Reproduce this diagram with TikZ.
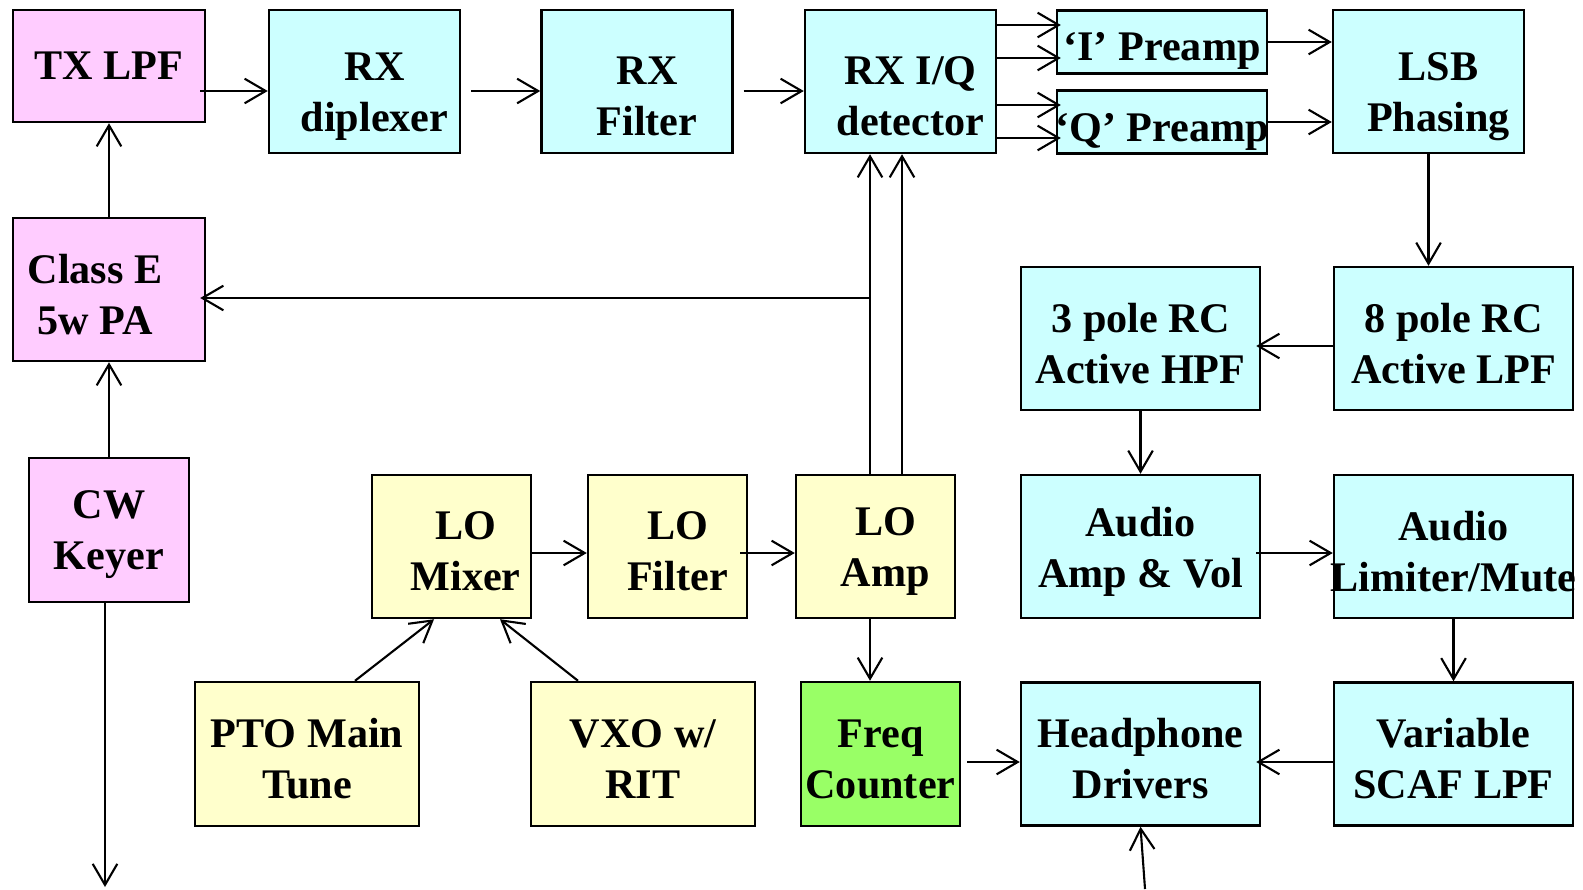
\documentclass[tikz,border=0pt]{standalone}
\usepackage{fontspec}
\setmainfont{Liberation Serif}
\usetikzlibrary{arrows.meta}
\definecolor{txpink}{HTML}{FFCCFF}
\definecolor{rxcyan}{HTML}{CCFFFF}
\definecolor{loyellow}{HTML}{FFFFCC}
\definecolor{cntgreen}{HTML}{99FF66}

\begin{document}
\begin{tikzpicture}[x=1cm, y=-1cm, >={Straight Barb[length=6pt, width=7pt]}, line width=0.6pt]
    \tikzset{blk/.style={draw, fill=#1, line width=0.7pt, inner sep=0pt},
             sq/.style={minimum width=1.91cm, minimum height=1.43cm},
             narrow/.style={minimum width=1.59cm, minimum height=1.43cm},
             wide/.style={minimum width=2.24cm, minimum height=1.44cm},
             wider/.style={minimum width=2.39cm, minimum height=1.43cm},
             pre/.style={minimum width=2.10cm, minimum height=0.63cm},
             every label/.style={font=\bfseries\fontsize{12}{14.5}\selectfont, align=center, inner sep=0pt, yshift=-0.05cm},
             top/.style={xshift=0.1cm, yshift=-0.1cm}}
    \useasboundingbox (0,0) rectangle (15.83,8.89);
    % transmit side
    \node[blk=txpink, minimum width=1.92cm, minimum height=1.12cm, label={[yshift=0.05cm]center:TX LPF}] (txlpf) at (1.09,0.66) {};
    \node[blk=txpink, sq, minimum width=1.92cm, label={[xshift=-0.14cm]center:Class E\\5w PA}] (classe) at (1.09,2.895) {};
    \node[blk=txpink, minimum width=1.60cm, minimum height=1.44cm, label={center:CW\\Keyer}] (keyer) at (1.09,5.30) {};
    % receive chain
    \node[blk=rxcyan, sq, label={[top]center:RX\\diplexer}] (rxdip) at (3.645,0.815) {};
    \node[blk=rxcyan, sq, label={[top]center:RX\\Filter}] (rxfil) at (6.37,0.815) {};
    \node[blk=rxcyan, sq, label={[top]center:RX I/Q\\detector}] (rxiq) at (9.005,0.815) {};
    \node[blk=rxcyan, pre, label={[yshift=-0.04cm]center:`I' Preamp}] (ipre) at (11.62,0.42) {};
    \node[blk=rxcyan, pre, label={[yshift=-0.05cm]center:`Q' Preamp}] (qpre) at (11.62,1.22) {};
    \node[blk=rxcyan, sq, label={[top]center:LSB\\Phasing}] (lsb) at (14.285,0.815) {};
    \node[blk=rxcyan, wider, label={center:3 pole RC\\Active HPF}] (hpf3) at (11.405,3.385) {};
    \node[blk=rxcyan, wider, label={center:8 pole RC\\Active LPF}] (lpf8) at (14.535,3.385) {};
    \node[blk=rxcyan, wider, label={center:Audio\\Amp \& Vol}] (aamp) at (11.405,5.465) {};
    \node[blk=rxcyan, wider, label={center:Audio\\Limiter/Mute}] (alim) at (14.535,5.465) {};
    \node[blk=rxcyan, wider, label={center:Headphone\\Drivers}] (hpdrv) at (11.405,7.54) {};
    \node[blk=rxcyan, wider, label={center:Variable\\SCAF LPF}] (scaf) at (14.535,7.54) {};
    % local oscillator
    \node[blk=loyellow, narrow, label={[xshift=0.14cm]center:LO\\Mixer}] (lomix) at (4.515,5.465) {};
    \node[blk=loyellow, narrow, label={[xshift=0.1cm]center:LO\\Filter}] (lofil) at (6.675,5.465) {};
    \node[blk=loyellow, narrow, label={[xshift=0.1cm]center:LO\\Amp}] (loamp) at (8.755,5.465) {};
    \node[blk=loyellow, wide, label={center:PTO Main\\Tune}] (pto) at (3.07,7.54) {};
    \node[blk=loyellow, wide, label={center:VXO w/\\RIT}] (vxo) at (6.43,7.54) {};
    \node[blk=cntgreen, narrow, minimum height=1.44cm, label={center:Freq\\Counter}] (freq) at (8.805,7.54) {};

    \coordinate (tap) at (8.70,2.98);
    \coordinate (key) at (1.05,8.87);
    \coordinate (phones) at (11.45,8.89);

    \foreach \a/\b/\s in {txlpf/rxdip/-0.06cm, rxdip/rxfil/0.1cm, rxfil/rxiq/0.1cm}
        \draw[->, shorten <=\s] (\a.east |- 0,0.91) -- (\b.west |- 0,0.91);
    \foreach \y/\b in {0.25/ipre, 0.58/ipre, 1.05/qpre, 1.38/qpre}
        \draw[->, shorten >=-0.05cm] (rxiq.east |- 0,\y) -- (\b.west |- 0,\y);
    \draw[->] (ipre.east) -- (lsb.west |- ipre.east);
    \draw[->] (qpre.east) -- (lsb.west |- qpre.east);
    \draw[->] (lsb.south) -- (lsb.south |- lpf8.north);
    \draw[->, shorten >=-0.05cm] (lpf8.west |- 0,3.46) -- (hpf3.east |- 0,3.46);
    \draw[->] (hpf3.south) -- (aamp.north);
    \draw[->, shorten <=-0.05cm] (aamp.east |- 0,5.53) -- (alim.west |- 0,5.53);
    \draw[->] (alim.south) -- (scaf.north);
    \draw[->, shorten >=-0.05cm] (scaf.west |- 0,7.62) -- (hpdrv.east |- 0,7.62);
    \draw[->, shorten <=0.06cm] (freq.east |- 0,7.62) -- (hpdrv.west |- 0,7.62);
    \draw[->] (phones) -- (hpdrv.south);

    \draw[->] (keyer.south -| key) -- (key);
    \draw[->] (keyer.north) -- (classe.south);
    \draw[->] (classe.north) -- (txlpf.south);

    \foreach \x in {8.70, 9.02}
        \draw[->] (loamp.north -| \x,0) -- (rxiq.south -| \x,0);
    \draw[->, shorten >=-0.06cm] (tap) -- (classe.east |- tap);
    \draw[->] (loamp.south -| 8.70,0) -- (freq.north -| 8.70,0);
    \draw[->] (lomix.east |- 0,5.53) -- (lofil.west |- 0,5.53);
    \draw[->, shorten <=-0.08cm] (lofil.east |- 0,5.53) -- (loamp.west |- 0,5.53);
    \draw[->] (pto.north -| 3.55,0) -- (lomix.south -| 4.34,0);
    \draw[->] (vxo.north -| 5.78,0) -- (lomix.south -| 5.00,0);
\end{tikzpicture}
\end{document}
